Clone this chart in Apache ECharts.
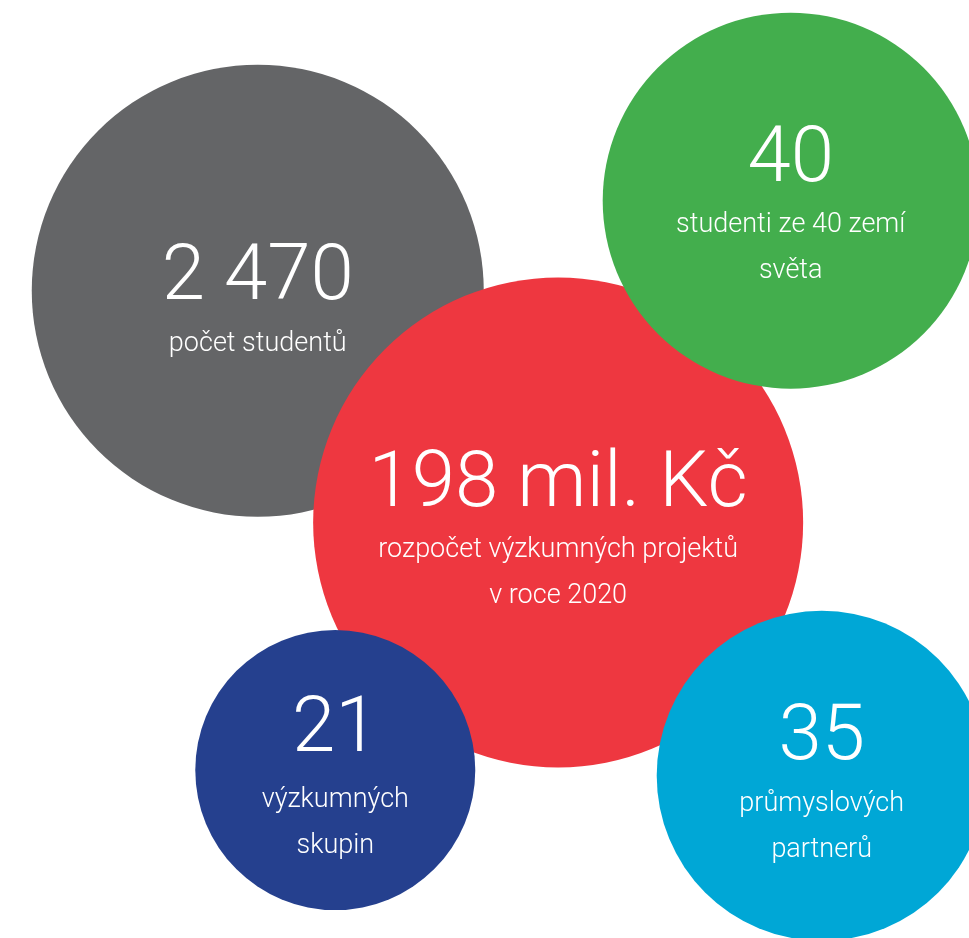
<!DOCTYPE html>
<html>
<head>
<meta charset="utf-8">
<script src="https://cdn.jsdelivr.net/npm/echarts@6/dist/echarts.min.js"></script>
<style>html,body{margin:0;padding:0;background:#fff}#c{width:969px;height:938px}</style>
</head>
<body>
<div id="c"></div>
<script>
// Data
var numbers = ['2 470', '198 mil. Kč', '40', '21', '35'];
var descriptions = [
  ['počet studentů'],
  ['rozpočet výzkumných projektů', 'v roce 2020'],
  ['studenti ze 40 zemí', 'světa'],
  ['výzkumných', 'skupin'],
  ['průmyslových', 'partnerů']
];
var bubbleX = [26.6, 57.6, 81.6, 34.6, 84.8];     // % of width
var bubbleY = [31.0, 55.7, 21.4, 82.1, 82.7];     // % of height
var bubbleSize = [452, 490, 376, 280, 330];        // diameter
var colors = ['#646567', '#ee3740', '#43ae4d', '#25408e', '#00a7d6'];

var labelOffsets = [[0, 12], [0, 10], [0, 7], [0, 7], [0, 10]];
var numLineHeights = [82, 82, 82, 92, 84];

var chart = echarts.init(document.getElementById('c'), null, {renderer: 'canvas'});
var data = numbers.map(function (n, i) {
  var txt = '{num|' + n + '}';
  descriptions[i].forEach(function (d) { txt += '\n{desc|' + d + '}'; });
  return {
    value: [bubbleX[i], bubbleY[i], bubbleSize[i]],
    itemStyle: {color: colors[i], opacity: 1},
    label: {
      show: true,
      position: 'inside',
      offset: labelOffsets[i],
      formatter: txt,
      rich: {
        num: {fontSize: 78, fontWeight: 300, color: '#fff', lineHeight: numLineHeights[i], fontFamily: 'Roboto', align: 'center'},
        desc: {fontSize: 27, fontWeight: 300, color: '#fff', lineHeight: 46, fontFamily: 'Roboto', align: 'center'}
      }
    }
  };
});

chart.setOption({
  animation: false,
  grid: {left: 0, right: 0, top: 0, bottom: 0},
  xAxis: {type: 'value', min: 0, max: 100, show: false},
  yAxis: {type: 'value', min: 0, max: 100, inverse: true, show: false},
  series: [{
    type: 'scatter',
    symbol: 'circle',
    symbolSize: function (v) { return v[2]; },
    data: data,
    emphasis: {disabled: true}
  }]
});
</script>
</body>
</html>
